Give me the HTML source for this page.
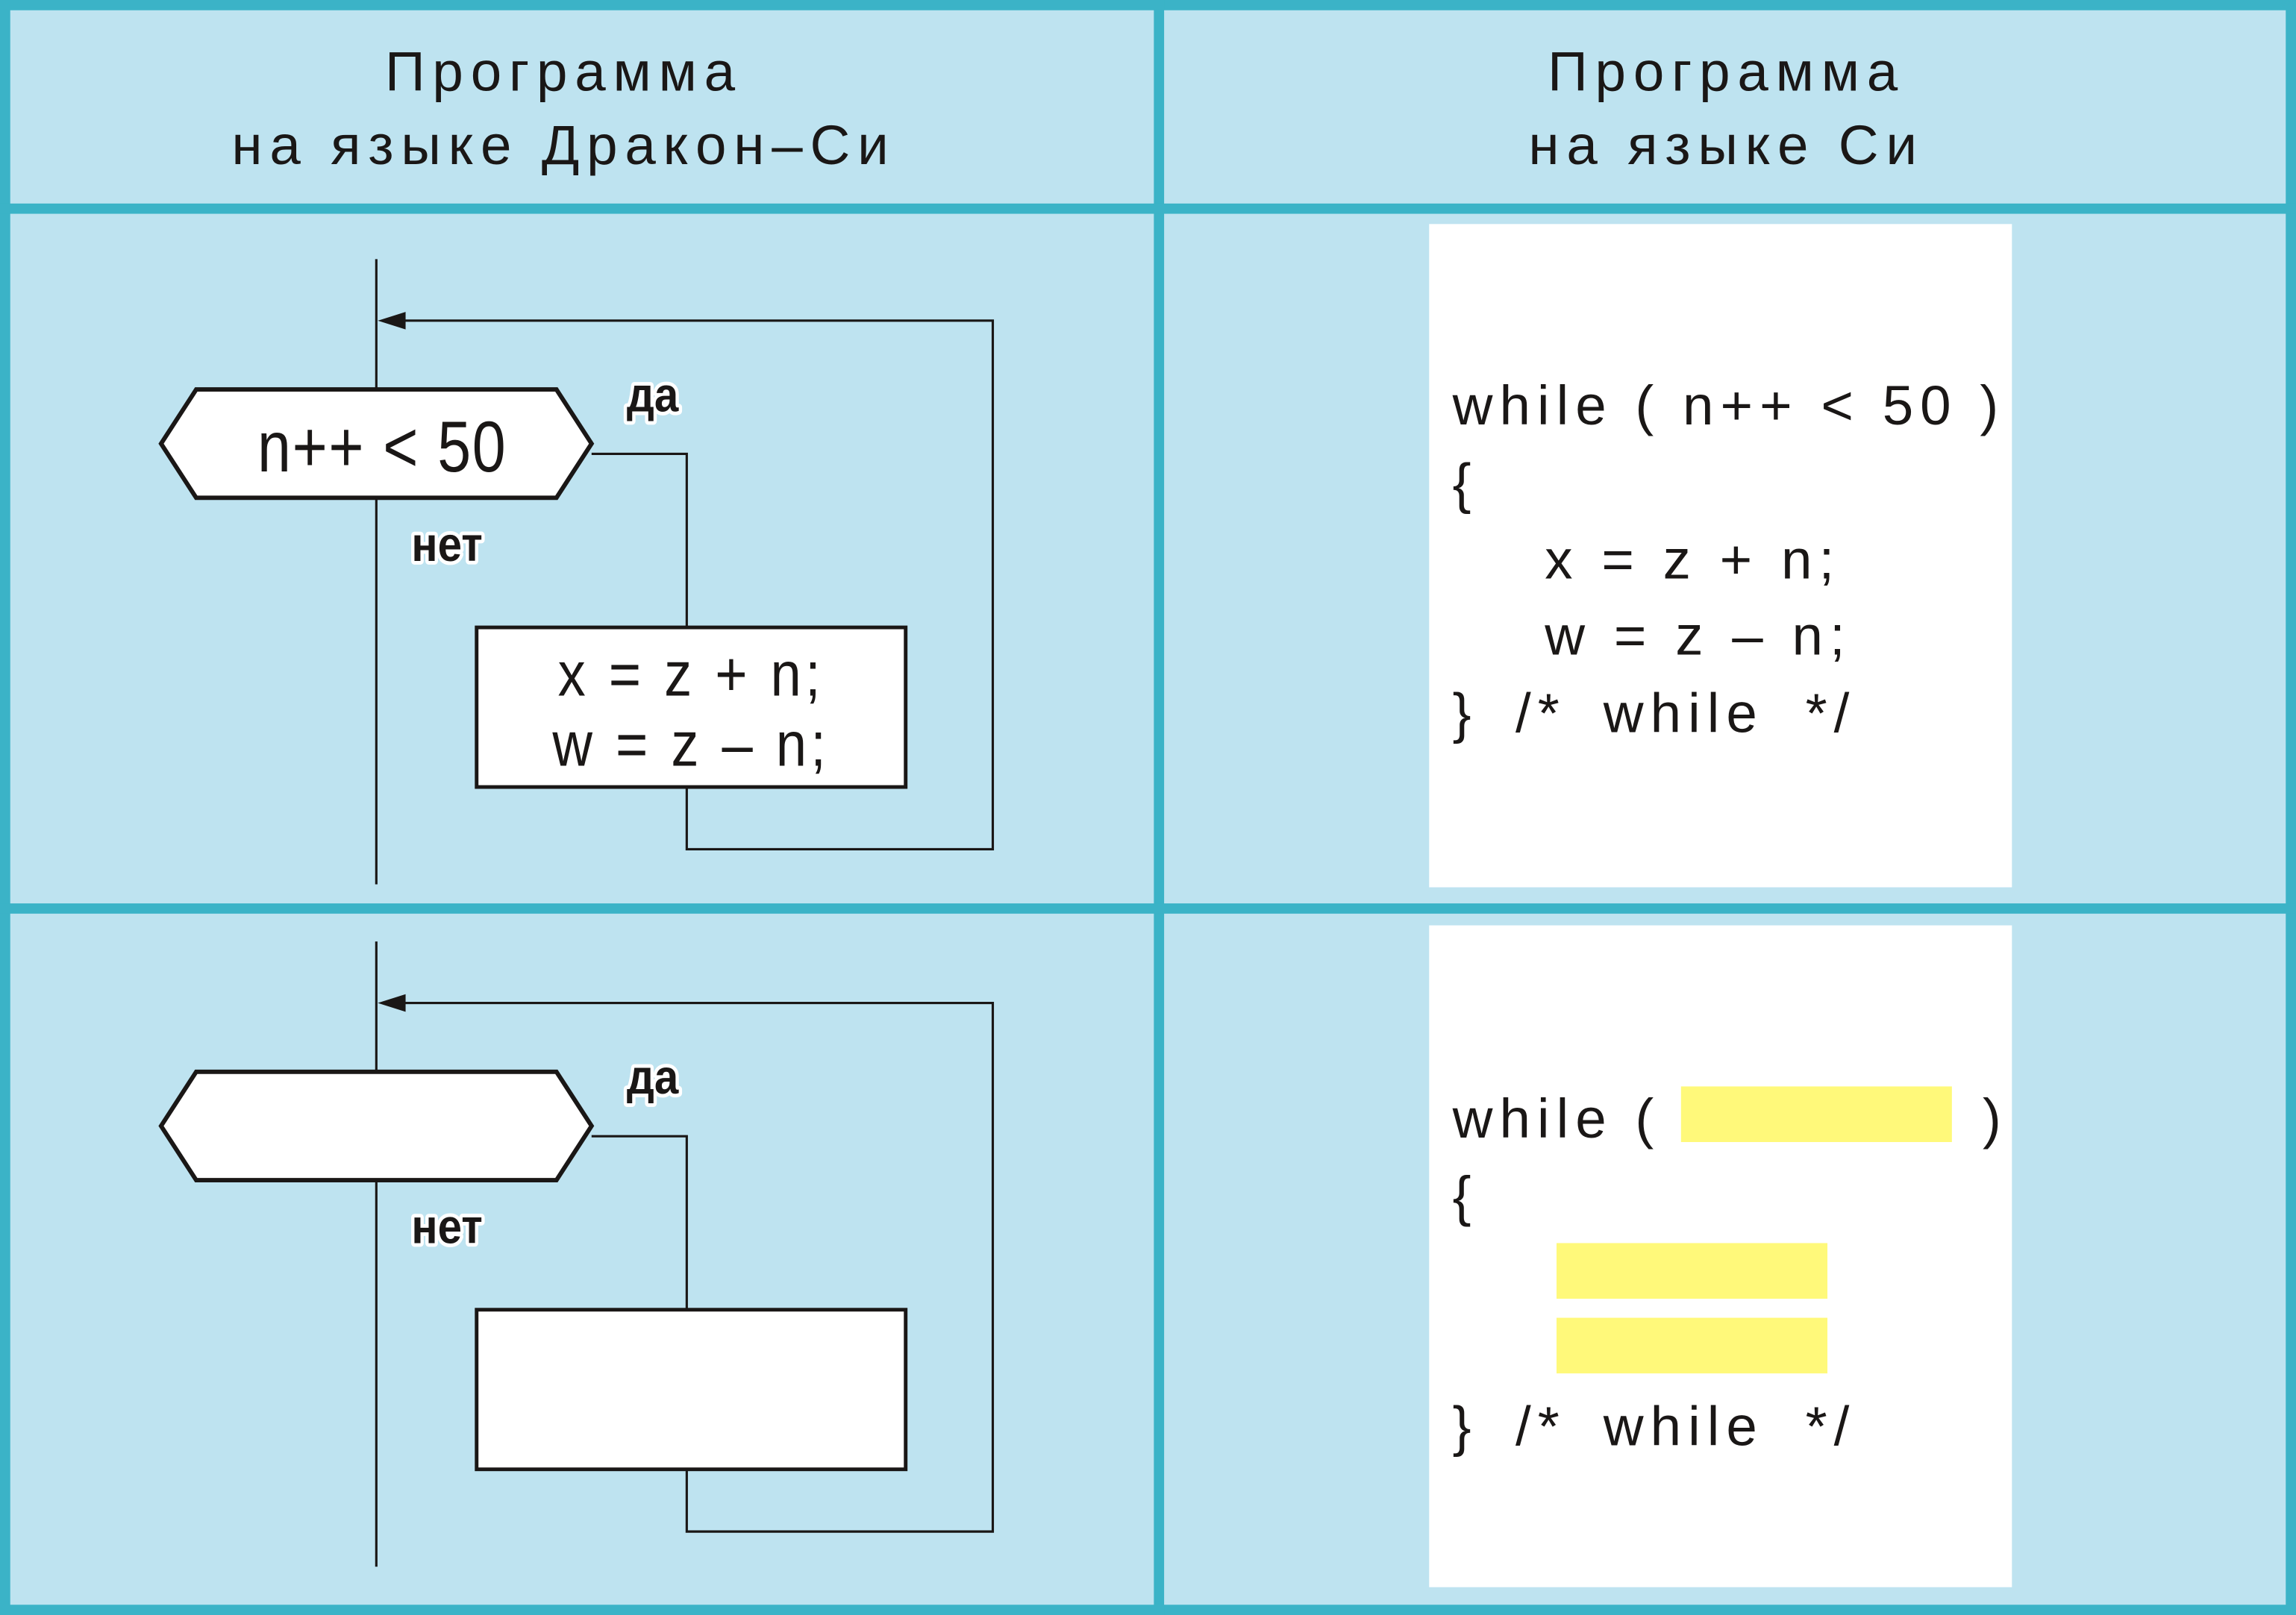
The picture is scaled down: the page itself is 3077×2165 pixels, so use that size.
<!DOCTYPE html>
<html><head><meta charset="utf-8"><style>html,body{margin:0;padding:0;background:#bee3f0}svg{display:block}</style></head><body>
<svg xmlns="http://www.w3.org/2000/svg" width="3077" height="2165" viewBox="0 0 1568 1103" preserveAspectRatio="none">
<rect width="1568" height="1103" fill="#bee3f0"/>
<g fill="#3bb3c7">
<rect x="0" y="0" width="1568" height="7"/>
<rect x="0" y="1096" width="1568" height="7"/>
<rect x="0" y="0" width="7" height="1103"/>
<rect x="1561" y="0" width="7" height="1103"/>
<rect x="788" y="0" width="7" height="1103"/>
<rect x="0" y="139" width="1568" height="7"/>
<rect x="0" y="617" width="1568" height="7"/>
</g>
<g font-family="Liberation Sans, sans-serif" font-size="38" fill="#1a1716" text-anchor="middle" letter-spacing="5">
<text x="385" y="62">Программа</text>
<text x="385" y="112">на языке Дракон–Си</text>
<text x="1179" y="62">Программа</text>
<text x="1179" y="112">на языке Си</text>
</g>
<defs>
<g id="fc">
<line x1="257" y1="177" x2="257" y2="604" stroke="#1a1716" stroke-width="1.6"/>
<polyline points="265,219 678,219 678,580 469,580 469,538" fill="none" stroke="#1a1716" stroke-width="1.6"/>
<polygon points="258,219 277,213 277,225" fill="#1a1716"/>
<polyline points="404,310 469,310 469,428" fill="none" stroke="#1a1716" stroke-width="1.6"/>
<polygon points="110,303 134,266 380,266 404,303 380,340 134,340" fill="#fff" stroke="#1a1716" stroke-width="3"/>
<rect x="325.5" y="428.5" width="293" height="109" fill="#fff" stroke="#1a1716" stroke-width="2.5"/>
<g font-family="Liberation Sans, sans-serif" font-weight="bold" font-size="33" fill="#1a1716" stroke="#fff" stroke-width="5" paint-order="stroke" stroke-linejoin="round">
<text x="428" y="281" transform="translate(428,0) scale(0.9,1) translate(-428,0)">да</text>
<text x="281" y="383" transform="translate(281,0) scale(0.9,1) translate(-281,0)">нет</text>
</g>
</g>
</defs>
<use href="#fc"/>
<use href="#fc" transform="translate(0,466)"/>
<g font-family="Liberation Sans, sans-serif" font-size="49" fill="#1a1716" text-anchor="middle" letter-spacing="1">
<text x="0" y="322" transform="translate(261,0) scale(0.84,1)">n++ &lt; 50</text>
</g>
<g font-family="Liberation Sans, sans-serif" font-size="43" fill="#1a1716" text-anchor="middle" letter-spacing="3">
<text x="0" y="475" transform="translate(472,0) scale(0.88,1)">x = z + n;</text>
<text x="0" y="523" transform="translate(472,0) scale(0.88,1)">w = z – n;</text>
</g>
<rect x="976" y="153" width="398" height="453" fill="#fff"/>
<rect x="976" y="632" width="398" height="452" fill="#fff"/>
<g font-family="Liberation Sans, sans-serif" font-size="38" fill="#1a1716" letter-spacing="4.6">
<text x="992" y="290">while ( n++ &lt; 50 )</text>
<text x="992" y="343">{</text>
<text x="1055" y="395">x = z + n;</text>
<text x="1055" y="447">w = z – n;</text>
<text x="992" y="500">}</text><text x="1035" y="500">/*</text><text x="1095" y="500">while</text><text x="1233" y="500">*/</text>
<text x="992" y="777">while (</text>
<text x="1354" y="777">)</text>
<text x="992" y="830">{</text>
<text x="992" y="987">}</text><text x="1035" y="987">/*</text><text x="1095" y="987">while</text><text x="1233" y="987">*/</text>
</g>
<g fill="#fff97a">
<rect x="1148" y="742" width="185" height="38"/>
<rect x="1063" y="849" width="185" height="38"/>
<rect x="1063" y="900" width="185" height="38"/>
</g>
</svg>
</body></html>
